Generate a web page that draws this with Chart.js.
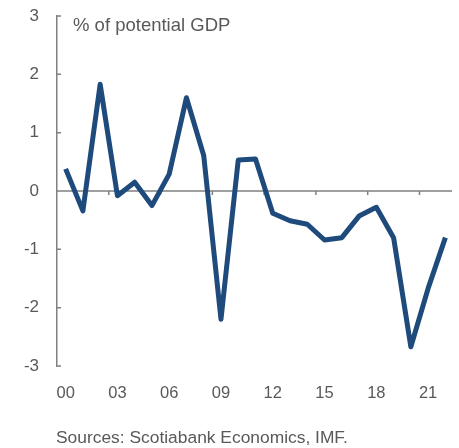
<!DOCTYPE html>
<html>
<head>
<meta charset="utf-8">
<script src="https://cdn.jsdelivr.net/npm/chart.js@4/dist/chart.umd.min.js"></script>
<style>
  html, body { margin: 0; padding: 0; background: #fff; }
  #wrap { width: 459px; height: 448px; }
</style>
</head>
<body>
<div id="wrap"><canvas id="gapChart" width="459" height="448"></canvas></div>
<script>
// years 2000..2022
const years = ['00','01','02','03','04','05','06','07','08','09','10','11','12','13','14','15','16','17','18','19','20','21','22'];
const outputGap = [0.38, -0.34, 1.83, -0.08, 0.15, -0.25, 0.29, 1.6, 0.61, -2.2, 0.53, 0.55, -0.38, -0.51, -0.57, -0.84, -0.8, -0.43, -0.28, -0.8, -2.67, -1.67, -0.8];
const yTicks = [-3, -2, -1, 0, 1, 2, 3];
const unitLabel = '% of potential GDP';
const sourceNote = 'Sources: Scotiabank Economics, IMF.';

const axisGrey = '#808080';
const textGrey = '#595959';
const fontFamily = '"Liberation Sans", Arial, sans-serif';

// zero line, small tick marks and the two text notes
const decorPlugin = {
  id: 'decor',
  beforeDatasetsDraw(chart) {
    const ctx = chart.ctx;
    const x = chart.scales.x;
    const y = chart.scales.y;
    const area = chart.chartArea;
    const y0 = y.getPixelForValue(0);
    ctx.save();
    ctx.strokeStyle = axisGrey;
    ctx.lineWidth = 1.5;
    ctx.beginPath();
    ctx.moveTo(area.left, y0);
    ctx.lineTo(area.right - 2, y0);
    // x tick marks between categories, every 3 years
    for (let i = 3; i < years.length; i += 3) {
      const px = (x.getPixelForValue(i - 1) + x.getPixelForValue(i)) / 2;
      ctx.moveTo(px, y0);
      ctx.lineTo(px, y0 + 4);
    }
    // y tick marks pointing inward
    yTicks.forEach(v => {
      const py = y.getPixelForValue(v);
      ctx.moveTo(area.left, py);
      ctx.lineTo(area.left + 4, py);
    });
    ctx.stroke();

    ctx.fillStyle = textGrey;
    ctx.textBaseline = 'middle';
    ctx.textAlign = 'left';
    ctx.font = '18.5px ' + fontFamily;
    ctx.fillText(unitLabel, 73, 26);
    ctx.font = '17.4px ' + fontFamily;
    ctx.fillText(sourceNote, 56, 438);
    ctx.restore();
  }
};

new Chart(document.getElementById('gapChart'), {
  type: 'line',
  data: {
    labels: years,
    datasets: [{
      data: outputGap,
      borderColor: '#1f4a7c',
      borderWidth: 5,
      pointRadius: 0,
      tension: 0,
      fill: false,
      borderJoinStyle: 'round'
    }]
  },
  options: {
    responsive: false,
    animation: false,
    layout: { padding: { top: 16, right: 5, left: 0, bottom: 0 } },
    plugins: { legend: { display: false }, tooltip: { enabled: false } },
    scales: {
      x: {
        offset: true,
        grid: { display: false, drawTicks: false },
        border: { display: false },
        ticks: {
          autoSkip: false,
          maxRotation: 0,
          padding: 18,
          color: textGrey,
          font: { size: 16.5, family: fontFamily },
          callback: (val, i) => (i % 3 === 0 ? years[i] : '')
        },
        afterFit: s => { s.height = 82; s.paddingLeft = 0; s.paddingRight = 0; }
      },
      y: {
        min: -3,
        max: 3,
        grid: { display: false, drawTicks: false },
        border: { display: true, color: axisGrey, width: 1.5 },
        ticks: {
          stepSize: 1,
          padding: 18,
          color: textGrey,
          font: { size: 17, family: fontFamily }
        },
        afterFit: s => { s.width = 57; s.paddingTop = 0; s.paddingBottom = 0; }
      }
    }
  },
  plugins: [decorPlugin]
});
</script>
</body>
</html>
